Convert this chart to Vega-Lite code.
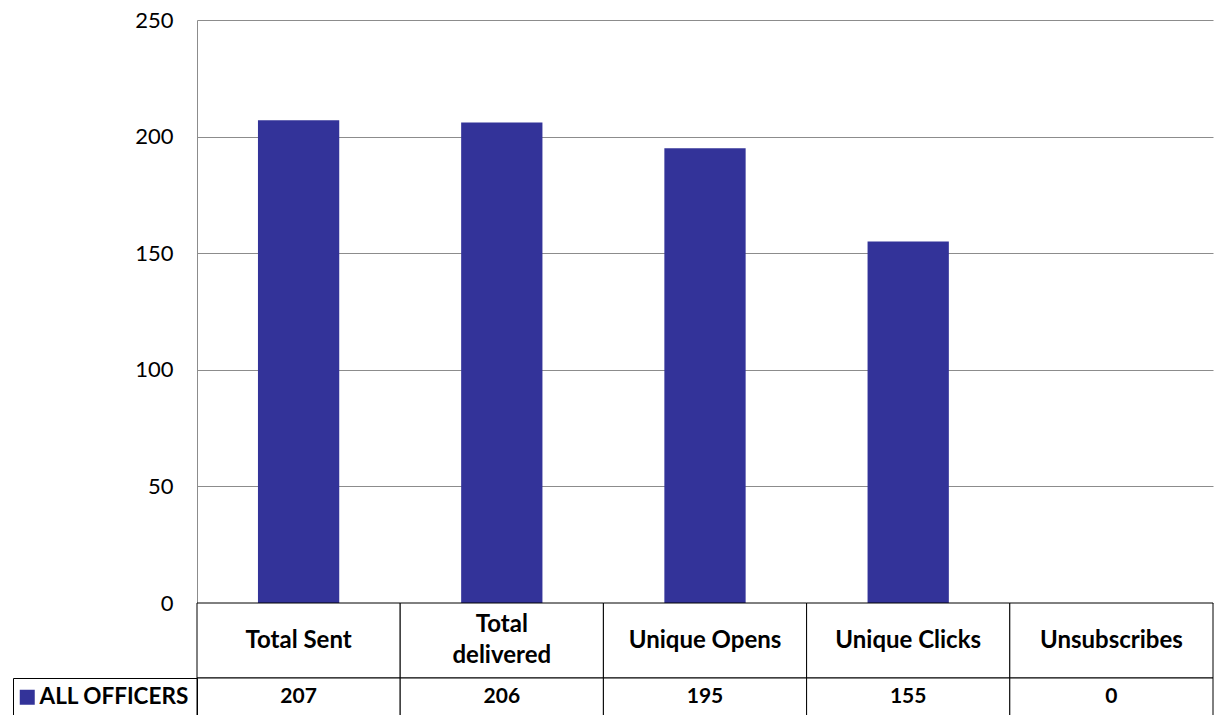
{
  "$schema": "https://vega.github.io/schema/vega-lite/v6.json",
  "padding": {"left": 12, "top": 9, "right": 3, "bottom": 0},
  "background": "white",
  "config": {
    "font": "Lato",
    "view": {"stroke": null},
    "legend": {
      "orient": "left",
      "offset": 0,
      "title": null,
      "padding": 8,
      "strokeColor": "#000000",
      "labelFontSize": 22.5,
      "labelFontWeight": "bold",
      "labelColor": "#000000",
      "labelFont": "Lato",
      "symbolType": "square",
      "symbolSize": 225,
      "symbolStrokeWidth": 0,
      "symbolOffset": -5,
      "labelOffset": 1,
      "labelLimit": 400
    }
  },
  "datasets": {
    "table": [
      {"metric": "Total Sent", "series": "ALL OFFICERS", "value": 207},
      {"metric": "Total delivered", "series": "ALL OFFICERS", "value": 206},
      {"metric": "Unique Opens", "series": "ALL OFFICERS", "value": 195},
      {"metric": "Unique Clicks", "series": "ALL OFFICERS", "value": 155},
      {"metric": "Unsubscribes", "series": "ALL OFFICERS", "value": 0}
    ]
  },
  "bounds": "flush",
  "spacing": 0,
  "resolve": {
    "scale": {"x": "independent", "y": "independent", "color": "independent"},
    "legend": {"color": "independent"}
  },
  "vconcat": [
    {
      "width": 1016,
      "height": 583,
      "data": {"name": "table"},
      "mark": {"type": "bar", "color": "#333399"},
      "encoding": {
        "x": {
          "field": "metric",
          "type": "nominal",
          "sort": null,
          "scale": {"paddingInner": 0.6, "paddingOuter": 0.3},
          "axis": null
        },
        "y": {
          "field": "value",
          "type": "quantitative",
          "scale": {"domain": [0, 250], "nice": false},
          "axis": {
            "values": [0, 50, 100, 150, 200, 250],
            "title": null,
            "grid": true,
            "gridColor": "#8c8c8c",
            "domainColor": "#8c8c8c",
            "ticks": false,
            "labelPadding": 24,
            "labelFontSize": 22,
            "labelColor": "#000000",
            "labelFont": "Lato"
          }
        }
      }
    },
    {
      "width": 1016,
      "height": 75,
      "data": {"name": "table"},
      "encoding": {
        "x": {
          "field": "metric",
          "type": "nominal",
          "sort": null,
          "scale": {"paddingInner": 0, "paddingOuter": 0},
          "axis": null
        }
      },
      "layer": [
        {"mark": {"type": "rect", "fill": "white", "stroke": "#000000", "strokeWidth": 1}},
        {
          "transform": [{"filter": "datum.metric != 'Total delivered'"}],
          "mark": {"type": "text", "fontWeight": "bold", "fontSize": 24, "color": "#000000"},
          "encoding": {"text": {"field": "metric"}}
        },
        {
          "transform": [
            {"filter": "datum.metric == 'Total delivered'"},
            {"calculate": "['Total', 'delivered']", "as": "label"}
          ],
          "mark": {"type": "text", "fontWeight": "bold", "fontSize": 24, "lineHeight": 31, "dy": -15.5, "color": "#000000"},
          "encoding": {"text": {"field": "label"}}
        }
      ]
    },
    {
      "width": 1016,
      "height": 38,
      "data": {"name": "table"},
      "encoding": {
        "x": {
          "field": "metric",
          "type": "nominal",
          "sort": null,
          "scale": {"paddingInner": 0, "paddingOuter": 0},
          "axis": null
        }
      },
      "layer": [
        {
          "mark": {"type": "point", "shape": "square", "filled": true, "opacity": 1},
          "encoding": {
            "color": {"field": "series", "type": "nominal", "scale": {"range": ["#333399"]}, "legend": {"title": null}}
          }
        },
        {"mark": {"type": "rect", "fill": "white", "stroke": "#000000", "strokeWidth": 1}},
        {
          "mark": {"type": "text", "fontWeight": "bold", "fontSize": 21, "color": "#000000"},
          "encoding": {"text": {"field": "value", "type": "quantitative"}}
        }
      ]
    }
  ]
}
